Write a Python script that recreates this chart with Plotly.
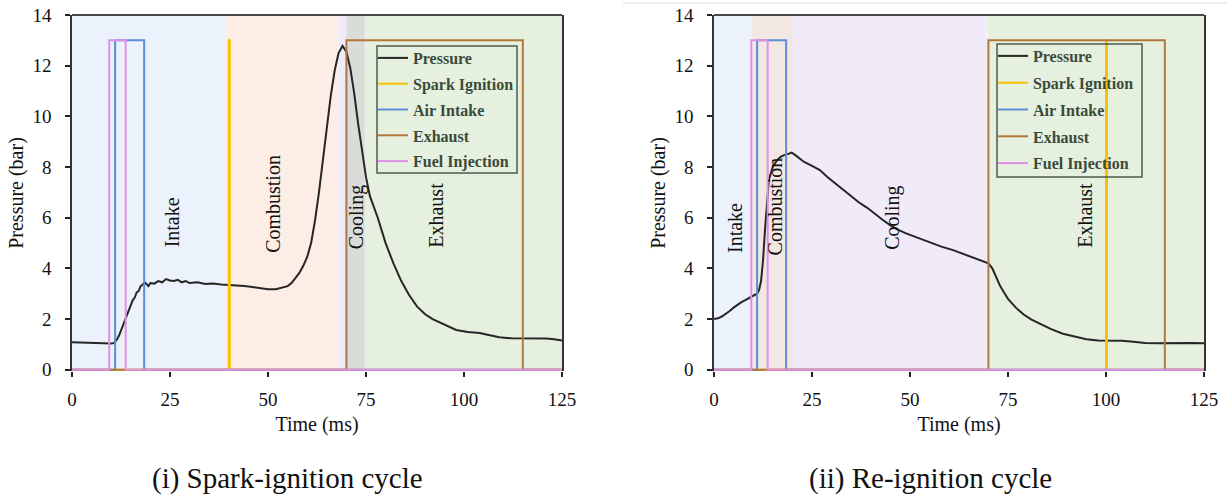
import plotly.graph_objects as go

# ---------------- data ----------------
T_END = 125
PULSE_HIGH = 13

x_ticks = [0, 25, 50, 75, 100, 125]
y_ticks = [0, 2, 4, 6, 8, 10, 12, 14]

# (i) spark-ignition cycle : pressure trace
p1_t = [0, 2, 4, 6, 8, 10, 10.8, 11.5, 12, 12.5, 13, 13.5, 14, 14.5, 15, 15.5, 16, 16.5,
        17, 17.5, 18, 18.5, 19, 19.5, 20, 21, 22, 23, 24, 25, 26, 27, 28, 29, 30, 32, 34,
        36, 38, 40, 42, 44, 46, 48, 50, 52, 54, 55, 56, 57, 58, 59, 60, 61, 62, 63, 64,
        65, 66, 67, 68, 69, 70, 71, 72, 73, 74, 75, 76, 78, 80, 82, 84, 86, 88, 90, 92,
        95, 98, 101, 104, 106, 109, 112, 115, 118, 121, 123, 125]
p1_v = [1.08, 1.07, 1.07, 1.06, 1.05, 1.04, 1.06, 1.2, 1.35, 1.55, 1.7, 1.95, 2.1, 2.35,
        2.5, 2.75, 2.85, 3.05, 3.1, 3.3, 3.35, 3.45, 3.38, 3.3, 3.42, 3.4, 3.5, 3.45, 3.58,
        3.52, 3.5, 3.55, 3.45, 3.5, 3.42, 3.45, 3.38, 3.4, 3.36, 3.35, 3.32, 3.3, 3.26,
        3.22, 3.18, 3.18, 3.25, 3.3, 3.42, 3.6, 3.82, 4.1, 4.45, 5.0, 5.9, 7.0, 8.3, 9.6,
        10.8, 11.8, 12.5, 12.78, 12.55, 11.9, 10.9, 9.7, 8.6, 7.6, 6.85, 6.0, 5.0, 4.2,
        3.5, 2.95, 2.5, 2.2, 2.0, 1.78, 1.57, 1.49, 1.45, 1.38, 1.28, 1.24, 1.24, 1.25,
        1.23, 1.2, 1.15]

# (ii) re-ignition cycle : pressure trace
p2_t = [0, 1, 2, 3, 4, 5, 6, 7, 8, 9, 10, 11, 11.5, 12, 12.5, 13, 13.5, 14, 15, 16, 17,
        18, 19, 19.8, 20.5, 21.5, 23, 25, 27, 29, 31, 33, 35, 37, 39, 41, 43, 45, 47, 49,
        52, 55, 58, 61, 64, 67, 69, 70, 71, 72, 73, 74, 75, 77, 79, 81, 83, 86, 89, 92,
        95, 98, 101, 104, 107, 110, 113, 116, 119, 122, 125]
p2_v = [2.0, 2.03, 2.1, 2.2, 2.32, 2.45, 2.57, 2.67, 2.75, 2.85, 2.92, 3.0, 3.15, 3.5,
        4.3, 5.5, 6.6, 7.5, 8.0, 8.25, 8.4, 8.48, 8.52, 8.57, 8.5, 8.38, 8.2, 8.05, 7.88,
        7.6, 7.35, 7.1, 6.82, 6.6, 6.4, 6.15, 5.92, 5.7, 5.52, 5.38, 5.2, 5.02, 4.86,
        4.72, 4.55, 4.4, 4.28, 4.2, 4.0, 3.65, 3.3, 3.05, 2.8, 2.45, 2.18, 1.98, 1.82,
        1.6, 1.42, 1.3, 1.2, 1.15, 1.15, 1.14, 1.1, 1.06, 1.05, 1.06, 1.07, 1.06, 1.05]

# pulse windows (on, off) in ms
fuel_window = [9.5, 13.7]
air_window = [11.0, 18.4]
exhaust_window = [70.0, 115.0]
spark1_window = [40.0, 40.25]
spark2_window = [100.0, 100.25]

# phase bands
phases1_start = [0, 39.3, 68.0, 70.0, 74.7]
phases1_end = [39.3, 68.0, 70.0, 74.7, 125]
phases2_start = [0, 9.6, 20.1, 69.8]
phases2_end = [9.6, 20.1, 69.8, 125]

# phase labels (ms, bar)
labels1_x = [25.4, 51.3, 72.6, 93.0]
labels1_y = [5.8, 6.55, 6.0, 6.1]
labels1_txt = ["Intake", "Combustion", "Cooling", "Exhaust"]
labels2_x = [5.4, 15.6, 45.7, 94.8]
labels2_y = [5.6, 6.45, 6.0, 6.1]
labels2_txt = ["Intake", "Combustion", "Cooling", "Exhaust"]

legend_names = ["Pressure", "Spark Ignition", "Air Intake", "Exhaust", "Fuel Injection"]

# ---------------- styles / layout ----------------
SERIF = "Liberation Serif, Times New Roman, serif"
C_P = "#262626"
C_SPARK = "#F7C000"
C_AIR = "#5B8ED6"
C_EXH = "#B3773D"
C_FUEL = "#E08FE6"
phase1_colors = ["#EBF2FB", "#FDEEE5", "#EFEAF8", "#DADCDA", "#E5F1DE"]
phase2_colors = ["#EBF2FB", "#F2E7E3", "#F0EAF9", "#E5F1DE"]

W, H = 1227, 496


def px(x):
    return x / W


def py(y):
    return 1 - y / H


def pulse(window):
    on, off = window
    return [0, on, on, off, off, T_END], [0, 0, PULSE_HIGH, PULSE_HIGH, 0, 0]


fig = go.Figure()


def add_panel(xa, ya, legend, p_t, p_v, spark_window, panel):
    series = [(p_t, p_v, C_P)]
    for win, col in ((spark_window, C_SPARK), (air_window, C_AIR),
                     (exhaust_window, C_EXH), (fuel_window, C_FUEL)):
        xs, ys = pulse(win)
        series.append((xs, ys, col))
    for name, (xs, ys, col) in zip(legend_names, series):
        fig.add_trace(go.Scatter(x=xs, y=ys, name=name, xaxis=xa, yaxis=ya,
                                 legend=legend, legendgroup=f"{panel}-{name}",
                                 mode="lines", hoverinfo="skip",
                                 line=dict(color=col, width=2)))


add_panel("x", "y", "legend", p1_t, p1_v, spark1_window, "a")
add_panel("x2", "y2", "legend2", p2_t, p2_v, spark2_window, "b")

shapes = []
for s, e, c in zip(phases1_start, phases1_end, phase1_colors):
    shapes.append(dict(type="rect", xref="x", yref="y domain", x0=s, x1=e, y0=0, y1=1,
                       fillcolor=c, line=dict(width=0), layer="below"))
for s, e, c in zip(phases2_start, phases2_end, phase2_colors):
    shapes.append(dict(type="rect", xref="x2", yref="y2 domain", x0=s, x1=e, y0=0, y1=1,
                       fillcolor=c, line=dict(width=0), layer="below"))
for xr, yr in (("x domain", "y domain"), ("x2 domain", "y2 domain")):
    shapes.append(dict(type="line", xref=xr, yref=yr, x0=0, x1=1, y0=1, y1=1,
                       line=dict(color="#4a4a4a", width=2), layer="above"))
# legend frames
for (x0, y0, x1, y1) in ((377, 46, 517, 173), (997, 44, 1142, 177)):
    shapes.append(dict(type="rect", xref="paper", yref="paper", x0=px(x0), x1=px(x1),
                       y0=py(y1), y1=py(y0), line=dict(color="#4d5b4d", width=1.5),
                       fillcolor="rgba(0,0,0,0)", layer="above"))
# thin grey page edge above the right panel
shapes.append(dict(type="line", xref="paper", yref="paper", x0=px(623), x1=1,
                   y0=py(3), y1=py(3), line=dict(color="#D9D9D9", width=1)))

annotations = []
for xs, ys, ts, xr, yr in ((labels1_x, labels1_y, labels1_txt, "x", "y"),
                           (labels2_x, labels2_y, labels2_txt, "x2", "y2")):
    for x, y, t in zip(xs, ys, ts):
        annotations.append(dict(x=x, y=y, xref=xr, yref=yr, text=t, textangle=-90,
                                showarrow=False,
                                font=dict(family=SERIF, size=20, color="#111111")))
for cx, txt in ((287, "(i) Spark-ignition cycle"), (930, "(ii) Re-ignition cycle")):
    annotations.append(dict(x=px(cx), y=py(478), xref="paper", yref="paper",
                            xanchor="center", yanchor="middle",
                            text=txt, showarrow=False,
                            font=dict(family=SERIF, size=29, color="#111111")))

tickfont = dict(family=SERIF, size=19, color="#111111")
titlefont = dict(family=SERIF, size=20, color="#111111")
ydom = [py(371), py(15)]


def xaxis(dom, anchor):
    return dict(domain=dom, anchor=anchor, range=[0, T_END], tickvals=x_ticks,
                showgrid=False, zeroline=False, showline=False, ticks="outside",
                ticklen=5, tickwidth=1.5, tickcolor="#222222", tickfont=tickfont,
                ticklabelstandoff=6, ticklabeloverflow="allow",
                title=dict(text="Time (ms)", font=titlefont, standoff=8),
                automargin=False, fixedrange=True)


def yaxis(anchor):
    return dict(domain=ydom, anchor=anchor, range=[-0.05, 14.0005], tickvals=y_ticks,
                showgrid=False, zeroline=False, showline=True, mirror=True,
                linecolor="#333333", linewidth=1.5, ticks="outside", ticklen=5,
                tickwidth=1.5, tickcolor="#222222", tickfont=tickfont,
                ticklabelstandoff=10, ticklabeloverflow="allow",
                title=dict(text="Pressure (bar)", font=titlefont, standoff=3),
                automargin=False, fixedrange=True)


legend_style = dict(bgcolor="rgba(0,0,0,0)", borderwidth=0,
                    font=dict(family=SERIF, size=16, color="#3b4a3b", weight="bold"),
                    xanchor="left", yanchor="top", itemwidth=30)

fig.update_layout(
    width=W, height=H, margin=dict(l=0, r=0, t=0, b=0),
    paper_bgcolor="white", plot_bgcolor="white", showlegend=True,
    xaxis=xaxis([px(72), px(562)], "y"),
    yaxis=yaxis("x"),
    xaxis2=xaxis([px(714), px(1204)], "y2"),
    yaxis2=yaxis("x2"),
    legend=dict(x=px(373), y=py(41), tracegroupgap=2, **legend_style),
    legend2=dict(x=px(993), y=py(39), tracegroupgap=3, **legend_style),
    shapes=shapes, annotations=annotations,
)

# remove the default 8px page margin so the figure fills the window exactly
fig.write_html("out.html", config={"displayModeBar": False},
               post_script="document.body.style.margin='0';document.body.style.overflow='hidden';")
